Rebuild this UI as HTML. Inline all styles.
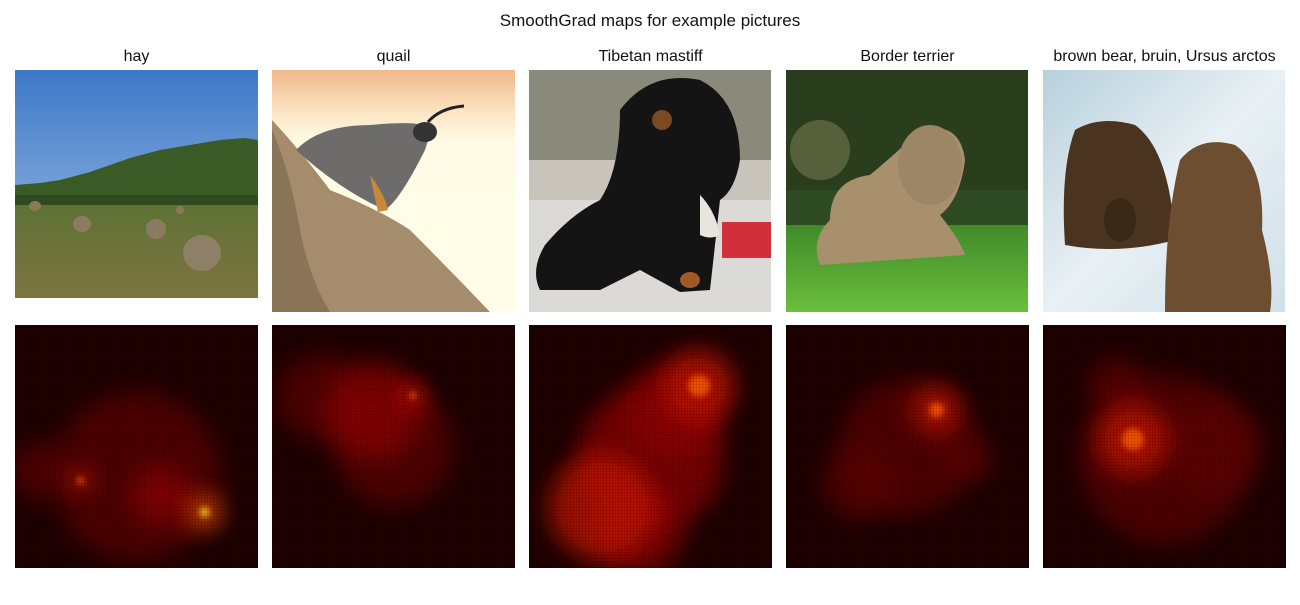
<!DOCTYPE html>
<html><head><meta charset="utf-8"><style>
body{margin:0;background:#fff;width:1300px;height:600px;overflow:hidden;font-family:"Liberation Sans","DejaVu Sans",sans-serif;}
</style></head><body>
<svg id="fig" width="1300" height="600" xmlns="http://www.w3.org/2000/svg">
<defs>
<filter id="blur" x="-50%" y="-50%" width="200%" height="200%"><feGaussianBlur stdDeviation="12"/></filter>
<filter id="blurS" x="-50%" y="-50%" width="200%" height="200%"><feGaussianBlur stdDeviation="3"/></filter>
<pattern id="grid" width="3" height="3" patternUnits="userSpaceOnUse"><path d="M0 0H3M0 0V3" stroke="#000" stroke-width="0.6" opacity="0.4" fill="none"/></pattern>
<linearGradient id="sky" x1="0" y1="0" x2="0" y2="1"><stop offset="0" stop-color="#3d78c8"/><stop offset="1" stop-color="#a8c4e4"/></linearGradient>
<linearGradient id="field" x1="0" y1="0" x2="0" y2="1"><stop offset="0" stop-color="#5e7236"/><stop offset="1" stop-color="#7e7440"/></linearGradient>
<linearGradient id="qbg" x1="0" y1="0" x2="0" y2="1"><stop offset="0" stop-color="#f0b88a"/><stop offset="0.18" stop-color="#fbe6c4"/><stop offset="0.3" stop-color="#fffbe6"/><stop offset="1" stop-color="#fffde8"/></linearGradient>
<linearGradient id="tgrass" x1="0" y1="0" x2="0" y2="1"><stop offset="0" stop-color="#3f8a2a"/><stop offset="1" stop-color="#6cbf3c"/></linearGradient>
<linearGradient id="water" x1="0" y1="0" x2="1" y2="1"><stop offset="0" stop-color="#b8d0dc"/><stop offset="0.5" stop-color="#e8f0f4"/><stop offset="1" stop-color="#d0e0ea"/></linearGradient>
</defs>
<text x="650" y="26" font-size="17" text-anchor="middle" fill="#111">SmoothGrad maps for example pictures</text>
<g id="titles"></g>
<g>
<rect x="15" y="70" width="243" height="228" fill="url(#sky)"/>
<path d="M15 185 L40 183 L60 180 L90 172 L110 165 L130 158 L160 150 L190 145 L220 140 L245 138 L258 140 L258 210 L15 210Z" fill="#3a5a26"/>
<rect x="15" y="195" width="243" height="15" fill="#2e4a1e"/>
<rect x="15" y="205" width="243" height="93" fill="url(#field)"/>
<ellipse cx="35" cy="206" rx="6" ry="5" fill="#8a7a5a"/>
<ellipse cx="82" cy="224" rx="9" ry="8" fill="#8c7c5e"/>
<ellipse cx="156" cy="229" rx="10" ry="10" fill="#8a7c60"/>
<ellipse cx="180" cy="210" rx="4" ry="4" fill="#8a7a5a"/>
<ellipse cx="202" cy="253" rx="19" ry="18" fill="#8e8066"/>
</g>
<g>
<rect x="272" y="70" width="243" height="242" fill="url(#qbg)"/>
<path d="M272 120 Q300 150 330 190 Q380 210 410 230 Q450 270 490 312 L272 312Z" fill="#a48c6c"/>
<path d="M272 130 Q290 170 300 230 Q310 280 330 312 L272 312Z" fill="#8a7458"/>
<path d="M296 150 Q320 125 370 125 Q420 120 432 128 L425 150 Q400 200 385 210 Q340 190 296 150Z" fill="#6e6c6a"/>
<ellipse cx="425" cy="132" rx="12" ry="10" fill="#333"/>
<path d="M428 122 Q440 108 464 106" stroke="#222" stroke-width="3" fill="none"/>
<path d="M370 175 Q385 195 388 210 L378 212Z" fill="#c88a3a"/>
</g>
<g>
<rect x="529" y="70" width="242" height="242" fill="#c8c4bc"/>
<rect x="529" y="70" width="242" height="90" fill="#8a8a7a"/>
<rect x="529" y="200" width="242" height="112" fill="#dcdad6"/>
<rect x="722" y="222" width="49" height="36" fill="#d0303a"/>
<path d="M620 110 Q650 70 700 80 Q740 100 740 160 Q735 190 720 200 L710 290 L680 292 L640 270 L600 290 L540 290 Q530 270 545 245 Q570 215 600 200 Q620 170 620 110Z" fill="#141414"/>
<path d="M700 195 Q715 210 720 235 Q710 240 700 235Z" fill="#e8e4de"/>
<ellipse cx="690" cy="280" rx="10" ry="8" fill="#a05a28"/>
<ellipse cx="662" cy="120" rx="10" ry="10" fill="#7a4a22"/>
</g>
<g>
<rect x="786" y="70" width="242" height="242" fill="#2e4a22"/>
<rect x="786" y="70" width="242" height="120" fill="#2a3e1e"/>
<rect x="786" y="225" width="242" height="87" fill="url(#tgrass)"/>
<circle cx="820" cy="150" r="30" fill="#6a7048" opacity="0.7"/>
<path d="M830 220 Q830 180 870 175 Q900 150 920 130 Q960 120 965 160 Q960 200 940 215 Q960 240 965 255 L820 265 Q810 240 830 220Z" fill="#a8906c"/>
<ellipse cx="930" cy="165" rx="32" ry="40" fill="#9c8666"/>
</g>
<g>
<rect x="1043" y="70" width="242" height="242" fill="url(#water)"/>
<path d="M1065 245 Q1060 170 1075 130 Q1100 115 1135 125 Q1170 150 1175 240 Q1120 255 1065 245Z" fill="#4a3420"/>
<path d="M1165 312 Q1165 220 1180 160 Q1200 135 1235 145 Q1265 165 1262 230 Q1275 280 1270 312Z" fill="#6e4e30"/>
<ellipse cx="1120" cy="220" rx="16" ry="22" fill="#3a2818"/>
</g>
<g id="heat"></g>
<script>
// Heatmap blobs per panel: [cx (0-1), cy (0-1), radius (0-1), intensity (0-1)]
const panelTitles = ["hay", "quail", "Tibetan mastiff", "Border terrier", "brown bear, bruin, Ursus arctos"];
const panelLeft = [15, 272, 529, 786, 1043];
const hayBlobs = [[0.27,0.64,0.05,0.85],[0.78,0.77,0.07,0.95],[0.5,0.62,0.35,0.3],[0.1,0.6,0.12,0.35],[0.6,0.7,0.12,0.45]];
const quailBlobs = [[0.42,0.35,0.2,0.45],[0.58,0.29,0.05,0.8],[0.37,0.37,0.04,0.6],[0.2,0.3,0.18,0.3],[0.5,0.5,0.25,0.25]];
const mastiffBlobs = [[0.7,0.25,0.15,0.8],[0.3,0.75,0.22,0.7],[0.5,0.55,0.3,0.6],[0.6,0.35,0.2,0.6],[0.45,0.85,0.18,0.6]];
const terrierBlobs = [[0.62,0.35,0.1,0.8],[0.3,0.65,0.15,0.4],[0.5,0.5,0.28,0.25],[0.75,0.55,0.1,0.3]];
const bearBlobs = [[0.37,0.47,0.15,0.8],[0.7,0.5,0.2,0.4],[0.5,0.55,0.35,0.3],[0.3,0.25,0.12,0.3]];
const allBlobs = [hayBlobs, quailBlobs, mastiffBlobs, terrierBlobs, bearBlobs];
const ns = "http://www.w3.org/2000/svg";
const SIZE = 243, TOP = 325;
const titles = document.getElementById('titles');
panelTitles.forEach((t, i) => {
  const el = document.createElementNS(ns, 'text');
  el.setAttribute('x', panelLeft[i] + SIZE / 2);
  el.setAttribute('y', 61);
  el.setAttribute('font-size', '16');
  el.setAttribute('text-anchor', 'middle');
  el.setAttribute('fill', '#111');
  el.textContent = t;
  
  
  titles.appendChild(el);
});
function heatColor(v) {
  if (v > 0.85) return '#ffd020';
  if (v > 0.7) return '#ff5a00';
  if (v > 0.5) return '#c81400';
  if (v > 0.35) return '#900600';
  return '#5e0300';
}
const heat = document.getElementById('heat');
allBlobs.forEach((blobs, i) => {
  const g = document.createElementNS(ns, 'g');
  
  
  const clipId = 'clip' + i;
  const cp = document.createElementNS(ns, 'clipPath');
  cp.setAttribute('id', clipId);
  const cr = document.createElementNS(ns, 'rect');
  cr.setAttribute('x', panelLeft[i]); cr.setAttribute('y', TOP);
  cr.setAttribute('width', SIZE); cr.setAttribute('height', SIZE);
  cp.appendChild(cr); g.appendChild(cp);
  g.setAttribute('clip-path', 'url(#' + clipId + ')');
  const bg = document.createElementNS(ns, 'rect');
  bg.setAttribute('x', panelLeft[i]); bg.setAttribute('y', TOP);
  bg.setAttribute('width', SIZE); bg.setAttribute('height', SIZE);
  bg.setAttribute('fill', '#1e0000');
  g.appendChild(bg);
  const sorted = blobs.slice().sort((a, b) => a[3] - b[3]);
  sorted.forEach(b => {
    const c = document.createElementNS(ns, 'circle');
    c.setAttribute('cx', panelLeft[i] + b[0] * SIZE);
    c.setAttribute('cy', TOP + b[1] * SIZE);
    c.setAttribute('r', b[2] * SIZE);
    c.setAttribute('fill', heatColor(b[3] * 0.8));
    c.setAttribute('opacity', 0.75);
    c.setAttribute('filter', 'url(#blur)');
    
    
    g.appendChild(c);
    if (b[3] > 0.75) {
      const h = document.createElementNS(ns, 'circle');
      h.setAttribute('cx', panelLeft[i] + b[0] * SIZE);
      h.setAttribute('cy', TOP + b[1] * SIZE);
      h.setAttribute('r', b[2] * SIZE * 0.3);
      h.setAttribute('fill', heatColor(b[3]));
      h.setAttribute('opacity', 0.85);
      h.setAttribute('filter', 'url(#blurS)');
      
      
      g.appendChild(h);
    }
  });
  const gr = document.createElementNS(ns, 'rect');
  gr.setAttribute('x', panelLeft[i]); gr.setAttribute('y', TOP);
  gr.setAttribute('width', SIZE); gr.setAttribute('height', SIZE);
  gr.setAttribute('fill', 'url(#grid)');
  g.appendChild(gr);
  heat.appendChild(g);
});
</script>
</svg>
</body></html>
